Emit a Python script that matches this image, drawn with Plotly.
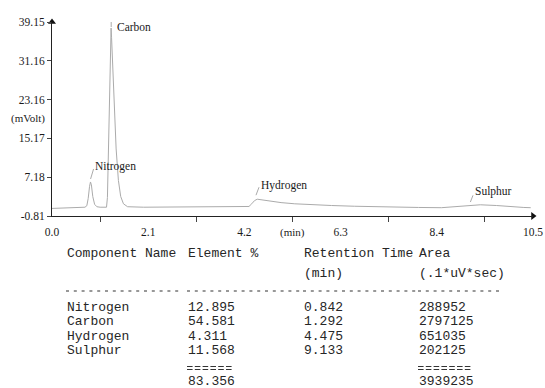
import plotly.graph_objects as go

# ---------------- data ----------------
time_min = [0.0, 0.3, 0.6, 0.72, 0.76, 0.79, 0.82, 0.84, 0.86, 0.89, 0.93, 0.98, 1.05, 1.19,
            1.21, 1.23, 1.25, 1.27, 1.29, 1.30, 1.33, 1.36, 1.40, 1.45, 1.50, 1.56, 1.65,
            2.0, 3.0, 4.0, 4.30, 4.36, 4.42, 4.48, 4.58, 4.70, 4.85, 5.0, 5.3, 5.7, 6.1,
            6.6, 7.2, 8.0, 8.5, 8.8, 9.13, 9.35, 9.7, 10.0, 10.3, 10.45]
signal_mv = [0.75, 0.85, 0.95, 1.0, 1.3, 2.8, 5.3, 6.2, 5.6, 3.2, 1.6, 1.1, 1.0, 1.0,
             3.0, 12.0, 24.0, 34.0, 37.9, 36.0, 30.0, 22.0, 13.0, 6.5, 3.2, 1.7, 1.1,
             1.0, 1.05, 1.1, 1.15, 1.7, 2.35, 2.65, 2.5, 2.25, 2.05, 1.95, 1.7, 1.5, 1.35,
             1.2, 1.05, 0.95, 0.9, 1.1, 1.45, 1.5, 1.35, 1.1, 0.95, 0.9]

y_ticks = [-0.81, 7.18, 15.17, 23.16, 31.16, 39.15]
x_label_ticks = [0.0, 2.1, 4.2, 6.3, 8.4, 10.5]
x_minor_ticks = [1.05, 3.15, 5.25, 7.35, 9.45]

components = ["Nitrogen", "Carbon", "Hydrogen", "Sulphur"]
element_pct = ["12.895", "54.581", "4.311", "11.568"]
retention_time = [0.842, 1.292, 4.475, 9.133]
area = ["288952", "2797125", "651035", "202125"]
total_pct = "83.356"
total_area = "3939235"

# ---------------- layout helpers ----------------
W, H = 545, 388
L, R, T, B = 52, 12, 22, 172
PW, PH = W - L - R, H - T - B


def px2paper(px, py):
    return (px - L) / PW, (T + PH - py) / PH


SERIF = "Liberation Serif"
MONO = "Liberation Mono"
TXT = "#1a1a1a"
LINE = "#ababab"
PITCH = 7.8  # monospace character pitch of the table text

fig = go.Figure()
fig.add_trace(go.Scatter(x=time_min, y=signal_mv, mode="lines",
                         line=dict(color=LINE, width=1), hoverinfo="skip",
                         showlegend=False))

# axis arrowheads
fig.add_trace(go.Scatter(x=[0.0], y=[y_ticks[-1]], mode="markers", cliponaxis=False,
                         marker=dict(symbol="triangle-up", size=7, color="#111"),
                         showlegend=False, hoverinfo="skip"))
fig.add_trace(go.Scatter(x=[x_label_ticks[-1]], y=[y_ticks[0]], mode="markers",
                         cliponaxis=False,
                         marker=dict(symbol="triangle-right", size=7, color="#111"),
                         showlegend=False, hoverinfo="skip"))

annotations = []
shapes = []

# peak labels with small leader lines
label_cfg = {
    "Nitrogen": dict(line=(0, 3, 3, 13), dx=2.5, dy=15.5),
    "Carbon": dict(line=(0, 1, 0, 10), dx=4, dy=1),
    "Hydrogen": dict(line=(-1, 4, 2, 12), dx=2, dy=14),
    "Sulphur": dict(line=(0, 3, 2.6, 9.7), dx=3, dy=14),
}
for name, rt in zip(components, retention_time):
    near = [s for t, s in zip(time_min, signal_mv) if abs(t - rt) <= 0.06]
    h = max(near)
    c = label_cfg[name]
    x0, y0, x1, y1 = c["line"]
    shapes.append(dict(type="line", xref="x", yref="y", xsizemode="pixel",
                       ysizemode="pixel", xanchor=rt, yanchor=h,
                       x0=x0, y0=y0, x1=x1, y1=y1,
                       line=dict(color=LINE, width=1)))
    annotations.append(dict(x=rt, y=h, xref="x", yref="y", text=name,
                            showarrow=False, xanchor="left", yanchor="middle",
                            xshift=c["dx"], yshift=c["dy"],
                            font=dict(family=SERIF, size=11.5, color=TXT)))

# y-axis unit and x-axis unit
xp, yp = px2paper(28, 118)
annotations.append(dict(x=xp, y=yp, xref="paper", yref="paper", text="(mVolt)",
                        showarrow=False, xanchor="center", yanchor="middle",
                        font=dict(family=SERIF, size=11, color=TXT)))
annotations.append(dict(x=5.25, y=0, xref="x", yref="paper", text="(min)",
                        showarrow=False, xanchor="center", yanchor="top",
                        yshift=-8, font=dict(family=SERIF, size=11, color=TXT)))

# ---------------- results table ----------------
col_x = [65, 186, 302, 417]
tfont = dict(family=MONO, size=13, color="#262626")


def cell(px, py, text):
    xp, yp = px2paper(px, py)
    annotations.append(dict(x=xp, y=yp, xref="paper", yref="paper", text=text,
                            showarrow=False, xanchor="left", yanchor="middle",
                            font=tfont))


def rule(px, py, nchars, dash, width=1.2):
    xa, ya = px2paper(px + 1, py)
    xb, _ = px2paper(px + nchars * PITCH - 1, py)
    shapes.append(dict(type="line", xref="paper", yref="paper", x0=xa, x1=xb,
                       y0=ya, y1=ya, line=dict(color="#333", width=width, dash=dash)))


headers = ["Component Name", "Element %", "Retention Time", "Area"]
for cx, htxt in zip(col_x, headers):
    cell(cx, 253, htxt)
cell(col_x[2], 273, "(min)")
cell(col_x[3], 273, "(.1*uV*sec)")
dash_counts = [15, 15, 15, 11]
for cx, n in zip(col_x, dash_counts):
    rule(cx, 291, n, "3px,4.8px")
row_y = [307, 321, 336, 350]
for ry, nm, ep, rt, ar in zip(row_y, components, element_pct, retention_time, area):
    cell(col_x[0], ry, nm)
    cell(col_x[1], ry, ep)
    cell(col_x[2], ry, f"{rt:.3f}")
    cell(col_x[3], ry, ar)
for yy in (366.5, 369.5):
    rule(col_x[1], yy, len(total_pct), "5.6px,2.2px", 1)
    rule(col_x[3], yy, len(total_area), "5.6px,2.2px", 1)
cell(col_x[1], 381, total_pct)
cell(col_x[3], 381, total_area)

fig.update_layout(
    width=W, height=H, margin=dict(l=L, r=R, t=T, b=B, pad=0, autoexpand=False),
    paper_bgcolor="white", plot_bgcolor="white",
    showlegend=False, annotations=annotations, shapes=shapes,
    xaxis=dict(range=[0, 10.5], showgrid=False, zeroline=False, automargin=False,
               showline=True, linecolor="#222", linewidth=1,
               tickmode="array", tickvals=x_label_ticks,
               ticktext=[f"{v:.1f}" for v in x_label_ticks],
               ticks="outside", ticklen=5, tickcolor="rgba(0,0,0,0)",
               tickfont=dict(family=SERIF, size=11.5, color=TXT),
               minor=dict(tickmode="array", tickvals=x_minor_ticks, ticks="outside",
                          ticklen=5, tickcolor="#444", tickwidth=1),
               fixedrange=True),
    yaxis=dict(range=[y_ticks[0], y_ticks[-1]], showgrid=False, zeroline=False,
               automargin=False,
               showline=True, linecolor="#222", linewidth=1,
               tickmode="array", tickvals=y_ticks,
               ticktext=[f"{v:.2f}" for v in y_ticks],
               ticks="outside", ticklen=4, tickcolor="#444",
               tickfont=dict(family=SERIF, size=11.5, color=TXT),
               fixedrange=True),
)

fig.write_html("out.html", config={"displayModeBar": False},
               post_script="document.body.style.margin='0';"
                           "document.body.style.overflow='hidden';")
